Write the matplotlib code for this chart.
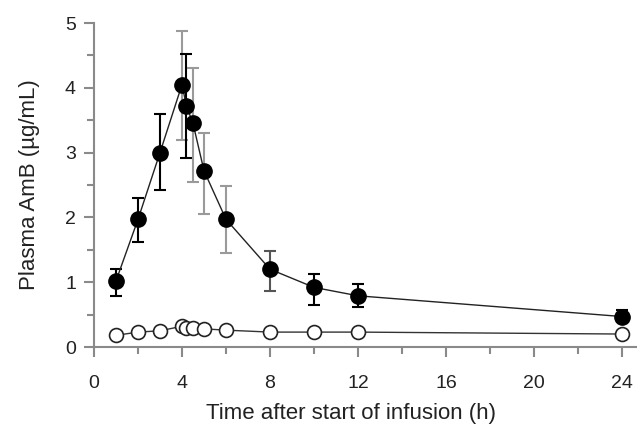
import numpy as np
import matplotlib.pyplot as plt
from matplotlib.ticker import MultipleLocator

plt.rcParams['font.family'] = ['Liberation Sans', 'DejaVu Sans']

# sampling times (h)
time = [1, 2, 3, 4, 4.2, 4.5, 5, 6, 8, 10, 12, 24]
# filled circles: plasma AmB (ug/mL) with lower/upper error ends
amb_high = [1.02, 1.97, 3.0, 4.05, 3.72, 3.45, 2.72, 1.97, 1.2, 0.92, 0.79, 0.47]
high_top = [1.2, 2.3, 3.6, 4.88, 4.52, 4.3, 3.3, 2.48, 1.48, 1.13, 0.97, 0.57]
high_bot = [0.78, 1.62, 2.42, 3.2, 2.92, 2.55, 2.05, 1.45, 0.87, 0.65, 0.62, 0.4]
# open circles
amb_low = [0.18, 0.23, 0.25, 0.32, 0.30, 0.30, 0.28, 0.26, 0.23, 0.23, 0.23, 0.2]
# error bar shade as drawn
bar_col = ['k', 'k', 'k', '#9a9a9a', 'k', '#9a9a9a', '#9a9a9a', '#9a9a9a', '#555555', 'k', 'k', 'k']

fig = plt.figure(figsize=(6.37, 4.26), dpi=100)
ax = fig.add_axes([94/637, 79/426, 543/637, 324/426])

t = np.array(time)
y = np.array(amb_high)
for i in range(len(t)):
    ax.errorbar(t[i], y[i], yerr=[[y[i] - high_bot[i]], [high_top[i] - y[i]]],
                fmt='none', ecolor=bar_col[i], elinewidth=1.5, capsize=4, capthick=1.5, zorder=2)

ax.plot(time, amb_low, '-', color='#333333', lw=1.0, marker='o', ms=10,
        mfc='white', mec='#222222', mew=1.2, zorder=3)
ax.plot(time, amb_high, '-', color='#222222', lw=1.0, marker='o', ms=11,
        mfc='black', mec='black', zorder=4)

ax.set_xlim(0, 24.68)
ax.set_ylim(0, 5)
ax.xaxis.set_major_locator(MultipleLocator(4))
ax.xaxis.set_minor_locator(MultipleLocator(2))
ax.yaxis.set_major_locator(MultipleLocator(1))
ax.yaxis.set_minor_locator(MultipleLocator(0.5))

for s in ['top', 'right']:
    ax.spines[s].set_visible(False)
for s in ['left', 'bottom']:
    ax.spines[s].set_color('#8a8a8a')
    ax.spines[s].set_linewidth(1.5)
ax.tick_params(which='major', direction='out', length=7, width=1.5, color='#8a8a8a',
               labelsize=14, labelcolor='#222222', pad=6)
ax.tick_params(which='minor', direction='out', length=5, width=1.5, color='#8a8a8a')
ax.tick_params(axis='x', pad=13)

ax.set_xlabel('Time after start of infusion (h)', fontsize=16, color='#222222', labelpad=8)
ax.set_ylabel('Plasma AmB (µg/mL)', fontsize=16, color='#222222', labelpad=18)
ax.xaxis.label.set_x(0.473)

fig.savefig('out.png', dpi=100)
